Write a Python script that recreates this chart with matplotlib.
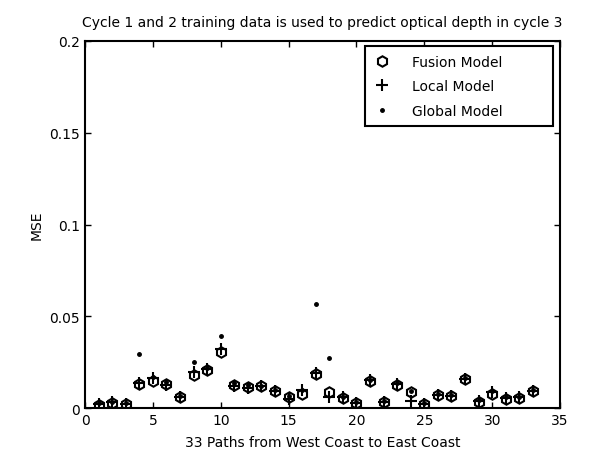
import matplotlib
matplotlib.use("Agg")
import matplotlib.pyplot as plt
import numpy as np

# === DATOS ===
paths = list(range(1, 34))
fusion = [0.0018, 0.0030, 0.0022, 0.0133, 0.0145, 0.0130, 0.0060, 0.0179, 0.0206, 0.0307,
          0.0128, 0.0115, 0.0118, 0.0090, 0.0060, 0.0078, 0.0188, 0.0088, 0.0055, 0.0030,
          0.0146, 0.0033, 0.0124, 0.0085, 0.0020, 0.0069, 0.0066, 0.0157, 0.0035, 0.0078,
          0.0050, 0.0056, 0.0090]
local = [0.0020, 0.0032, 0.0024, 0.0135, 0.0165, 0.0125, 0.0062, 0.0195, 0.0210, 0.0320,
         0.0120, 0.0110, 0.0120, 0.0095, 0.0050, 0.0098, 0.0190, 0.0060, 0.0058, 0.0030,
         0.0150, 0.0035, 0.0130, 0.0040, 0.0022, 0.0070, 0.0068, 0.0160, 0.0040, 0.0085,
         0.0052, 0.0058, 0.0092]
glob = [0.0025, 0.0035, 0.0030, 0.0297, 0.0170, 0.0140, 0.0065, 0.0250, 0.0220, 0.0394,
        0.0135, 0.0125, 0.0120, 0.0100, 0.0065, 0.0100, 0.0566, 0.0274, 0.0060, 0.0035,
        0.0155, 0.0040, 0.0135, 0.0095, 0.0030, 0.0075, 0.0070, 0.0165, 0.0045, 0.0090,
        0.0060, 0.0060, 0.0100]

xticks = [0, 5, 10, 15, 20, 25, 30, 35]
yticks = [0, 0.05, 0.1, 0.15, 0.2]
ytick_labels = ["0", "0.05", "0.1", "0.15", "0.2"]

# === FIGURA ===
fig = plt.figure(figsize=(5.99, 4.64), dpi=100)
ax = fig.add_axes([0.142, 0.1185, 0.793, 0.791])

ax.plot(paths, fusion, linestyle="none", marker="h", markersize=7.5, markerfacecolor="none",
        markeredgecolor="black", markeredgewidth=1.5, label="Fusion Model")
ax.plot(paths, local, linestyle="none", marker="+", markersize=9, color="black",
        markeredgewidth=1.5, label="Local Model")
ax.plot(paths, glob, linestyle="none", marker=".", markersize=5, color="black",
        label="Global Model")

ax.set_xlim(0, 35)
ax.set_ylim(0, 0.2)
ax.set_xticks(xticks)
ax.set_yticks(yticks)
ax.set_yticklabels(ytick_labels)
ax.tick_params(direction="in", top=True, right=True, labelsize=10, length=4, width=1.0)
for s in ax.spines.values():
    s.set_linewidth(1.5)

ax.set_title("Cycle 1 and 2 training data is used to predict optical depth in cycle 3",
             fontsize=10, pad=11)
ax.set_xlabel("33 Paths from West Coast to East Coast", fontsize=10, labelpad=6)
ax.set_ylabel("MSE", fontsize=10)

leg = ax.legend(loc="upper left", bbox_to_anchor=(0.589, 0.985, 0.396, 0.0), mode="expand",
                fontsize=10, fancybox=False, framealpha=1, edgecolor="black",
                borderaxespad=0, borderpad=0.6, handlelength=1.2, handletextpad=1.6,
                labelspacing=0.75)
leg.get_frame().set_linewidth(1.5)

fig.savefig("out.png", dpi=100)
